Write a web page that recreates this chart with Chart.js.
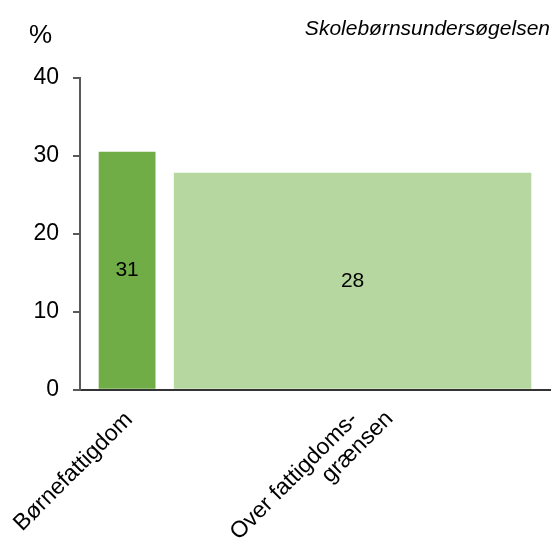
<!DOCTYPE html>
<html><head><meta charset="utf-8">
<script src="https://cdn.jsdelivr.net/npm/chart.js@4/dist/chart.umd.min.js"></script>
<style>html,body{margin:0;padding:0;background:#fff}#wrap{width:553px;height:544px;position:relative}</style>
</head><body><div id="wrap"><canvas id="c"></canvas></div>
<script>
// ---- data ----
const categories = ['Børnefattigdom', ['Over fattigdoms-', 'grænsen']];
const values = [30.5, 27.8];
const valueLabels = ['31', '28'];
const shares = [13.6, 86.4];          // relative bar widths
const yTicks = [0, 10, 20, 30, 40];
const colors = ['#70AD47', '#B6D7A0'];
const unitLabel = '%';
const sourceLabel = 'Skolebørnsundersøgelsen';

// ---- derived layout in data units ----
const GAP = 4.6;
const centers = [];
let acc = 0;
shares.forEach(s => { acc += GAP; centers.push(acc + s / 2); acc += s; });
const xMax = acc + GAP;

const FONT = "'Liberation Sans', Arial, sans-serif";

const textPlugin = {
  id: 'texts',
  afterDatasetsDraw(chart) {
    const ctx = chart.ctx;
    ctx.save();
    ctx.fillStyle = '#000';
    ctx.font = '21px ' + FONT;
    ctx.textAlign = 'center';
    ctx.textBaseline = 'middle';
    chart.data.datasets.forEach((d, i) => {
      const bar = chart.getDatasetMeta(i).data[0];
      ctx.fillText(valueLabels[i], bar.x, (bar.y + bar.base) / 2);
    });
    ctx.font = '26px ' + FONT;
    ctx.textAlign = 'left';
    ctx.textBaseline = 'alphabetic';
    ctx.fillText(unitLabel, 29, 43);
    ctx.font = 'italic 21px ' + FONT;
    ctx.textAlign = 'right';
    ctx.fillText(sourceLabel, 550, 35);
    ctx.restore();
  }
};

const chart = new Chart(document.getElementById('c'), {
  type: 'bar',
  data: {
    datasets: categories.map((c, i) => ({
      label: Array.isArray(c) ? c.join('') : c,
      data: [{ x: centers[i], y: values[i] }],
      backgroundColor: colors[i],
      borderWidth: 0
    }))
  },
  options: {
    responsive: true,
    maintainAspectRatio: false,
    animation: false,
    layout: { padding: { top: 78, right: 3, left: 0, bottom: 0 } },
    plugins: { legend: { display: false }, tooltip: { enabled: false }, title: { display: false } },
    scales: {
      x: {
        type: 'linear',
        stacked: true,
        offset: false,
        min: 0,
        max: xMax,
        grid: { display: false, drawTicks: false },
        border: { display: true, color: '#333', width: 2 },
        afterBuildTicks: s => { s.ticks = centers.map(v => ({ value: v })); },
        afterFit: s => { s.height = 154.5; s.paddingLeft = 0; s.paddingRight = 0; },
        ticks: {
          autoSkip: false,
          minRotation: 45,
          maxRotation: 45,
          padding: 0,
          labelOffset: 20,
          color: '#000',
          font: { family: FONT, size: 23, lineHeight: 1.05 },
          callback: (v, i) => {
            const c = categories[i];
            return Array.isArray(c) ? [c[0] + '    ', c[1]] : c + '    ';
          }
        }
      },
      y: {
        min: 0,
        max: 40,
        afterBuildTicks: s => { s.ticks = yTicks.map(v => ({ value: v })); },
        afterFit: s => { s.width = 80; s.paddingTop = 0; s.paddingBottom = 0; },
        grid: { drawOnChartArea: false, drawTicks: true, tickLength: 7, color: '#595959', lineWidth: 2 },
        border: { display: true, color: '#595959', width: 2 },
        ticks: { padding: 14, color: '#000', font: { family: FONT, size: 23 } }
      }
    }
  },
  plugins: [textPlugin]
});

const xs = chart.scales.x;
const ppu = xs.getPixelForValue(1) - xs.getPixelForValue(0);
chart.data.datasets.forEach((d, i) => { d.barThickness = shares[i] * ppu; });
chart.update('none');
</script></body></html>
